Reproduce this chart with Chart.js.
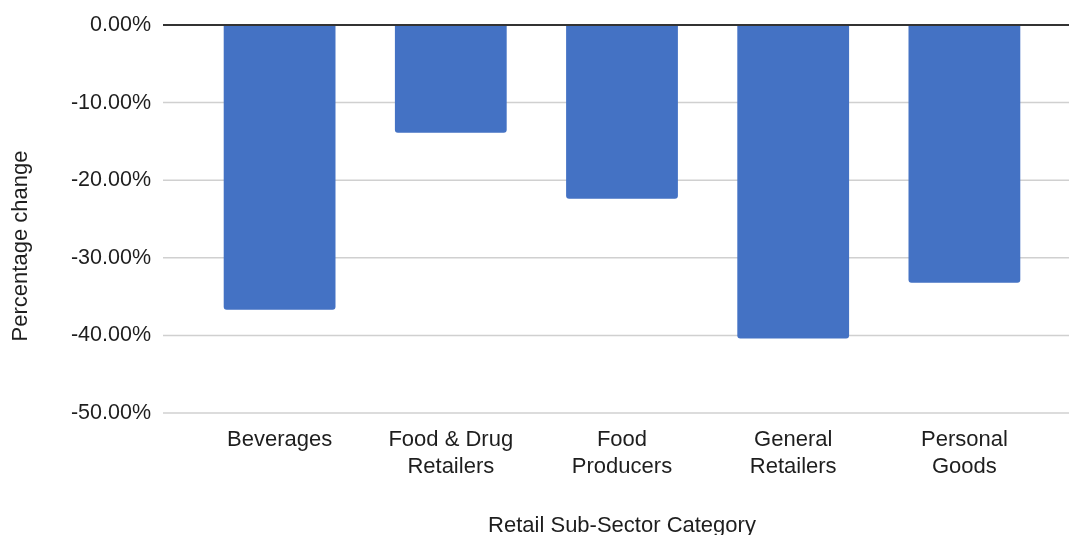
<!DOCTYPE html>
<html>
<head>
<meta charset="utf-8">
<script src="https://cdn.jsdelivr.net/npm/chart.js@4.4.1/dist/chart.umd.min.js"></script>
<style>
    html, body { margin: 0; padding: 0; background: #fff; }
    #wrap { width: 1069px; height: 535px; }
</style>
</head>
<body>
<div id="wrap"><canvas id="retailChart" width="1069" height="535"></canvas></div>
<script>
// Sub-sector categories and their percentage change
const categories = [
    'Beverages',
    ['Food & Drug', 'Retailers'],
    ['Food', 'Producers'],
    ['General', 'Retailers'],
    ['Personal', 'Goods']
];
const pctChange = [-36.7, -13.9, -22.4, -40.4, -33.2];

const Y_MIN = -50;
const Y_MAX = 0;
const Y_STEP = 10;

const FONT = "'Liberation Sans', Arial, sans-serif";
const TEXT = '#1e1e1e';
const BAR = '#4472c4';
const GRID = '#d0d0d0';
const ZERO = '#333';
const GRID_LEFT_EXTRA = 31; // grid lines run a little past the plot into the label column

// Grid lines span from just right of the tick labels to the canvas edge;
// the zero line goes on top of the bars
const gridPlugin = {
    id: 'sheetGrid',
    beforeDatasetsDraw(chart) {
        const { ctx, chartArea, scales: { y } } = chart;
        ctx.save();
        ctx.strokeStyle = GRID;
        ctx.lineWidth = 1.5;
        y.ticks.forEach(t => {
            if (t.value === 0) return;
            const py = y.getPixelForValue(t.value);
            ctx.beginPath();
            ctx.moveTo(chartArea.left - GRID_LEFT_EXTRA, py);
            ctx.lineTo(chart.width, py);
            ctx.stroke();
        });
        ctx.restore();
    },
    afterDatasetsDraw(chart) {
        const { ctx, chartArea, scales: { y } } = chart;
        const py = y.getPixelForValue(0);
        ctx.save();
        ctx.strokeStyle = ZERO;
        ctx.lineWidth = 2;
        ctx.beginPath();
        ctx.moveTo(chartArea.left - GRID_LEFT_EXTRA, py);
        ctx.lineTo(chart.width, py);
        ctx.stroke();

        // y-axis title, centred on the plot plus the category label rows
        const labelsBottom = chartArea.bottom + 54;
        ctx.translate(21, (chartArea.top + labelsBottom) / 2);
        ctx.rotate(-Math.PI / 2);
        ctx.font = '22px ' + FONT;
        ctx.fillStyle = TEXT;
        ctx.textAlign = 'center';
        ctx.textBaseline = 'middle';
        ctx.fillText('Percentage change', 0, 0);
        ctx.restore();
    }
};

new Chart(document.getElementById('retailChart'), {
    type: 'bar',
    data: {
        labels: categories,
        datasets: [{
            label: 'Percentage change',
            data: pctChange,
            backgroundColor: BAR,
            borderWidth: 0,
            borderRadius: 3,
            barPercentage: 0.653,
            categoryPercentage: 1.0
        }]
    },
    options: {
        responsive: false,
        animation: false,
        layout: { padding: { top: 25, right: 19, bottom: 0, left: 0 } },
        plugins: {
            legend: { display: false },
            tooltip: { enabled: false }
        },
        scales: {
            x: {
                grid: { display: false, drawTicks: false },
                border: { display: false },
                ticks: {
                    color: TEXT,
                    padding: 13,
                    maxRotation: 0,
                    autoSkip: false,
                    font: { family: FONT, size: 22, lineHeight: 1.23 }
                },
                title: {
                    display: true,
                    text: 'Retail Sub-Sector Category',
                    color: TEXT,
                    font: { family: FONT, size: 22, lineHeight: 1.2 },
                    padding: { top: 0, bottom: -4 }
                },
                afterFit(scale) { scale.height = 122; }
            },
            y: {
                min: Y_MIN,
                max: Y_MAX,
                // grid lines come from sheetGrid; the tick length only reserves the gap
                grid: { display: false, drawTicks: true, tickLength: GRID_LEFT_EXTRA },
                border: { display: false },
                ticks: {
                    stepSize: Y_STEP,
                    color: TEXT,
                    padding: 12,
                    font: { family: FONT, size: 21.5 },
                    callback: v => v.toFixed(2) + '%'
                },
                afterFit(scale) { scale.width = 194; }
            }
        }
    },
    plugins: [gridPlugin]
});
</script>
</body>
</html>
